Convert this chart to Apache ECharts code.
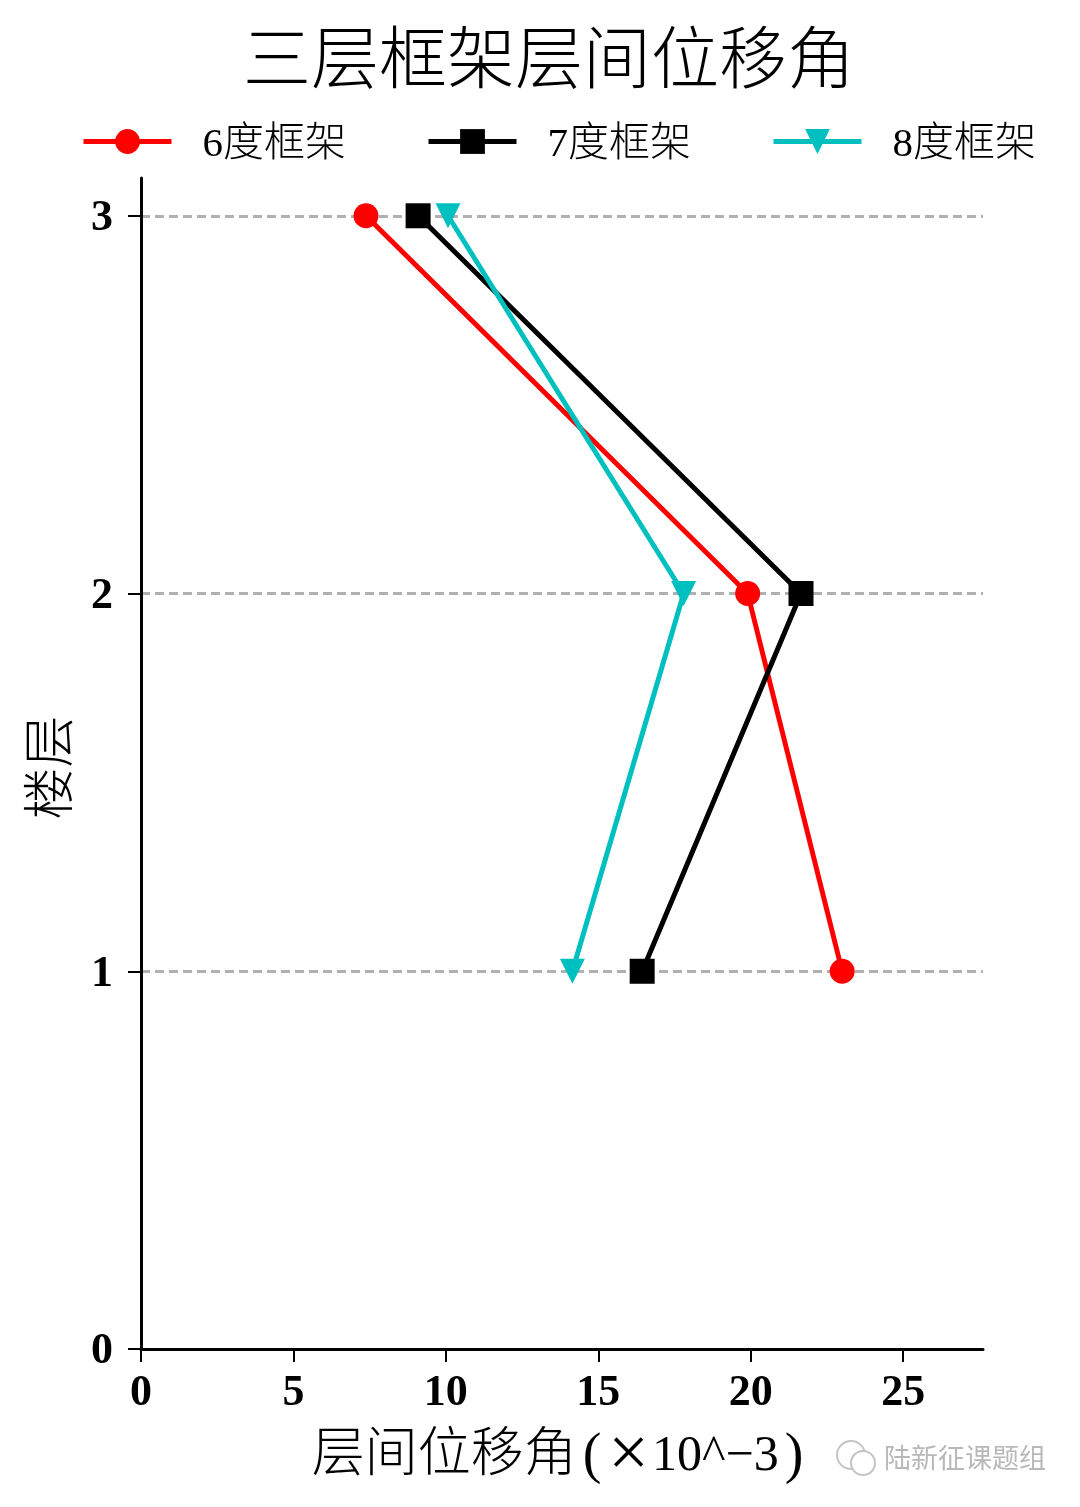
<!DOCTYPE html>
<html>
<head>
<meta charset="utf-8">
<title>三层框架层间位移角</title>
<script src="https://cdn.jsdelivr.net/npm/echarts@6/dist/echarts.min.js"></script>
<style>
html, body { margin: 0; padding: 0; background: #fff; }
#main { width: 1080px; height: 1507px; }
</style>
</head>
<body>
<div id="main"></div>
<script>
var floors = [1, 2, 3];
var drift6 = [23.0, 19.9, 7.38];
var drift7 = [16.44, 21.65, 9.09];
var drift8 = [14.15, 17.8, 10.07];
var xTicks = [0, 5, 10, 15, 20, 25];
var yTicks = [0, 1, 2, 3];

var cjk = '"Liberation Serif", "Noto Sans CJK SC"';

function pairs(values) {
    return values.map(function (v, i) {
        return [v, floors[i]];
    });
}

function makeSeries(name, values, color, symbol, rotate) {
    return {
        name: name,
        type: 'line',
        data: pairs(values),
        symbol: symbol,
        symbolSize: 25,
        symbolRotate: rotate,
        lineStyle: { color: color, width: 5 },
        itemStyle: { color: color }
    };
}

var myChart = echarts.init(document.getElementById('main'));
myChart.setOption({
    animation: false,
    backgroundColor: '#fff',
    title: {
        text: '三层框架层间位移角',
        left: 544,
        top: 26,
        textAlign: 'center',
        textStyle: { fontFamily: cjk, fontSize: 68, fontWeight: 300, color: '#000' }
    },
    legend: {
        left: 76,
        top: 120,
        itemWidth: 88,
        itemHeight: 31,
        itemGap: 80,
        lineStyle: { width: 5 },
        formatter: '{t|{name}}',
        textStyle: {
            rich: {
                t: { fontFamily: cjk, fontSize: 41, fontWeight: 300, color: '#000', padding: [8, 0, 0, 26] }
            }
        }
    },
    grid: { left: 141, top: 178, width: 842, height: 1171, outerBoundsMode: 'none' },
    xAxis: {
        type: 'value',
        min: 0,
        max: 27.62,
        name: '{h|层间位移角}{p|(}{x|×}{d|10^}{m|−}{d|3}{q|)}',
        nameLocation: 'middle',
        nameGap: 72,
        nameTextStyle: {
            color: '#000',
            rich: {
                h: { fontFamily: cjk, fontSize: 53, fontWeight: 300, color: '#000' },
                p: { fontFamily: cjk, fontSize: 56, color: '#000', padding: [0, 4, 0, 6] },
                q: { fontFamily: cjk, fontSize: 56, color: '#000', padding: [0, 9, 0, 6] },
                x: { fontFamily: cjk, fontSize: 72, color: '#000', padding: [0, 3, 0, 3] },
                d: { fontFamily: cjk, fontSize: 50, color: '#000' },
                m: { fontFamily: cjk, fontSize: 50, color: '#000' }
            }
        },
        axisLine: { show: true, lineStyle: { color: '#000', width: 3 } },
        axisTick: { show: true, length: 13, customValues: xTicks, lineStyle: { color: '#000', width: 2 } },
        axisLabel: { customValues: xTicks, margin: 23, fontFamily: '"Liberation Serif"', fontSize: 44, fontWeight: 'bold', color: '#000' },
        splitLine: { show: false }
    },
    yAxis: {
        type: 'value',
        min: 0,
        max: 3.1,
        name: '楼层',
        nameLocation: 'middle',
        nameGap: 59,
        nameTextStyle: { fontFamily: cjk, fontSize: 52, fontWeight: 300, color: '#000', padding: [0, 8, 0, 0] },
        axisLine: { show: true, lineStyle: { color: '#000', width: 3 } },
        axisTick: { show: true, length: 13, customValues: yTicks, lineStyle: { color: '#000', width: 2 } },
        axisLabel: {
            customValues: yTicks,
            margin: 28,
            formatter: '{n|{value}}',
            rich: {
                n: { fontFamily: '"Liberation Serif"', fontSize: 44, fontWeight: 'bold', color: '#000', padding: [6, 0, 0, 0] }
            }
        },
        splitLine: { show: true, lineStyle: { color: '#b0b0b0', width: 3, type: [9, 5] } }
    },
    series: [
        makeSeries('6度框架', drift6, '#ff0000', 'circle', 0),
        makeSeries('7度框架', drift7, '#000000', 'rect', 0),
        makeSeries('8度框架', drift8, '#00bfbf', 'triangle', 180)
    ],
    graphic: [
        { type: 'circle', shape: { cx: 851, cy: 1455, r: 14 }, style: { fill: '#fff', stroke: '#c4c4c4', lineWidth: 2 } },
        { type: 'circle', shape: { cx: 863, cy: 1463, r: 12 }, style: { fill: '#fff', stroke: '#c4c4c4', lineWidth: 2 } },
        {
            type: 'text',
            left: 884,
            top: 1444,
            style: { text: '陆新征课题组', fontFamily: '"Noto Sans CJK SC"', fontSize: 27, fill: '#b8b8b8' }
        }
    ]
});
</script>
</body>
</html>
